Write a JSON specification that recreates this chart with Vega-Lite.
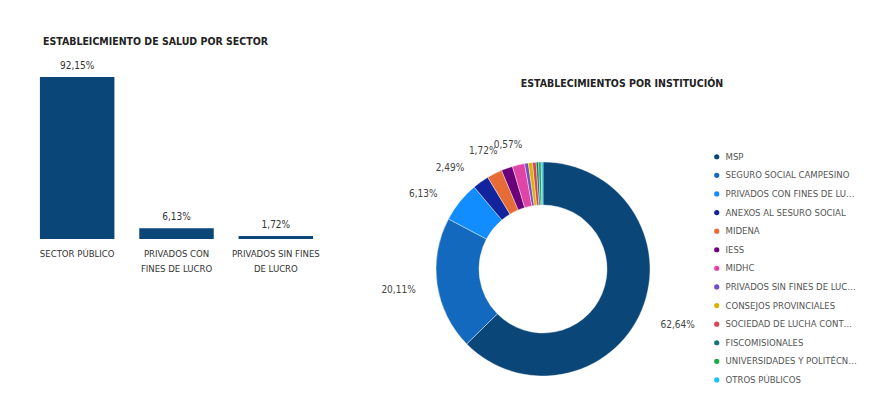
{
  "$schema": "https://vega.github.io/schema/vega-lite/v6.json",
  "background": "white",
  "padding": {"left": 28, "top": 36, "right": 5, "bottom": 5},
  "bounds": "flush",
  "spacing": 88,
  "config": {
    "view": {"stroke": null},
    "font": "Liberation Sans Narrow, DejaVu Sans Condensed, sans-serif",
    "locale": {"number": {"decimal": ",", "thousands": ".", "grouping": [3], "currency": ["", "%"]}}
  },
  "datasets": {
    "sector": [
      {"sector": "SECTOR PÚBLICO", "pct": 92.15},
      {"sector": "PRIVADOS CON\nFINES DE LUCRO", "pct": 6.13},
      {"sector": "PRIVADOS SIN FINES\nDE LUCRO", "pct": 1.72}
    ],
    "inst": [
      {"orden": 1, "institucion": "MSP", "pct": 62.64},
      {"orden": 2, "institucion": "SEGURO SOCIAL CAMPESINO", "pct": 20.11},
      {"orden": 3, "institucion": "PRIVADOS CON FINES DE LUCRO", "pct": 6.13},
      {"orden": 4, "institucion": "ANEXOS AL SESURO SOCIAL", "pct": 2.49},
      {"orden": 5, "institucion": "MIDENA", "pct": 2.3},
      {"orden": 6, "institucion": "IESS", "pct": 1.72},
      {"orden": 7, "institucion": "MIDHC", "pct": 1.85},
      {"orden": 8, "institucion": "PRIVADOS SIN FINES DE LUCRO", "pct": 0.57},
      {"orden": 9, "institucion": "CONSEJOS PROVINCIALES", "pct": 0.62},
      {"orden": 10, "institucion": "SOCIEDAD DE LUCHA CONTRA EL CÁNCER", "pct": 0.55},
      {"orden": 11, "institucion": "FISCOMISIONALES", "pct": 0.35},
      {"orden": 12, "institucion": "UNIVERSIDADES Y POLITÉCNICAS", "pct": 0.4},
      {"orden": 13, "institucion": "OTROS PÚBLICOS", "pct": 0.27}
    ]
  },
  "hconcat": [
    {
      "width": 297,
      "height": 162,
      "data": {"name": "sector"},
      "title": {"text": "ESTABLEICMIENTO DE SALUD POR SECTOR", "anchor": "start", "dx": 15, "fontSize": 10.5, "fontWeight": "bold", "color": "#222", "offset": 14},
      "encoding": {
        "x": {"field": "sector", "type": "nominal", "sort": null,
          "scale": {"paddingInner": 0.25, "paddingOuter": 0.12},
          "axis": {"title": null, "labelAngle": 0, "ticks": false, "domain": false, "labelPadding": 9, "labelFontSize": 9.5, "labelColor": "#333", "labelLineHeight": 15, "labelExpr": "split(datum.value, '\\n')"}},
        "y": {"field": "pct", "type": "quantitative", "scale": {"domain": [0, 92.15], "nice": false}, "axis": null}
      },
      "layer": [
        {"mark": {"type": "bar", "color": "#0A4678"}},
        {"mark": {"type": "text", "dy": -11, "fontSize": 10, "color": "#333"}, "encoding": {"text": {"field": "pct", "format": "$.2f"}}}
      ]
    },
    {
      "width": 260,
      "height": 384,
      "data": {"name": "inst"},
      "title": {"text": "ESTABLECIMIENTOS POR INSTITUCIÓN", "anchor": "middle", "dx": 79, "dy": 16, "fontSize": 10.5, "fontWeight": "bold", "color": "#222"},
      "encoding": {
        "theta": {"field": "pct", "type": "quantitative", "stack": true},
        "order": {"field": "orden", "type": "quantitative"}
      },
      "layer": [
        {
          "mark": {"type": "arc", "innerRadius": 64, "outerRadius": 107, "stroke": "white", "strokeWidth": 0.4},
          "encoding": {
            "color": {"field": "institucion", "type": "nominal",
              "scale": {
                "domain": ["MSP", "SEGURO SOCIAL CAMPESINO", "PRIVADOS CON FINES DE LUCRO", "ANEXOS AL SESURO SOCIAL", "MIDENA", "IESS", "MIDHC", "PRIVADOS SIN FINES DE LUCRO", "CONSEJOS PROVINCIALES", "SOCIEDAD DE LUCHA CONTRA EL CÁNCER", "FISCOMISIONALES", "UNIVERSIDADES Y POLITÉCNICAS", "OTROS PÚBLICOS"],
                "range": ["#0A4678", "#1369BE", "#118DFF", "#12239E", "#E66C37", "#6B007B", "#E044A7", "#744EC2", "#D9B300", "#D64550", "#197278", "#1AAB40", "#15C6F4"]
              },
              "legend": {"orient": "none", "legendX": 684, "legendY": 75, "title": null, "symbolType": "circle", "symbolSize": 45, "labelFontSize": 9.5, "labelColor": "#555", "labelLimit": 132, "rowPadding": 4.6, "labelOffset": 4}
            }
          }
        },
        {
          "mark": {"type": "text", "radius": 146, "fontSize": 10, "color": "#444"},
          "encoding": {
            "text": {
              "condition": {"test": {"field": "institucion", "oneOf": ["MSP", "SEGURO SOCIAL CAMPESINO"]}, "field": "pct", "format": "$.2f"},
              "value": ""
            }
          }
        },
        {
          "mark": {"type": "text", "radius": 136, "dx": -14, "dy": 10, "fontSize": 10, "color": "#444"},
          "encoding": {
            "text": {
              "condition": {"test": {"field": "institucion", "oneOf": ["PRIVADOS CON FINES DE LUCRO", "ANEXOS AL SESURO SOCIAL", "IESS", "PRIVADOS SIN FINES DE LUCRO"]}, "field": "pct", "format": "$.2f"},
              "value": ""
            }
          }
        }
      ]
    }
  ]
}
